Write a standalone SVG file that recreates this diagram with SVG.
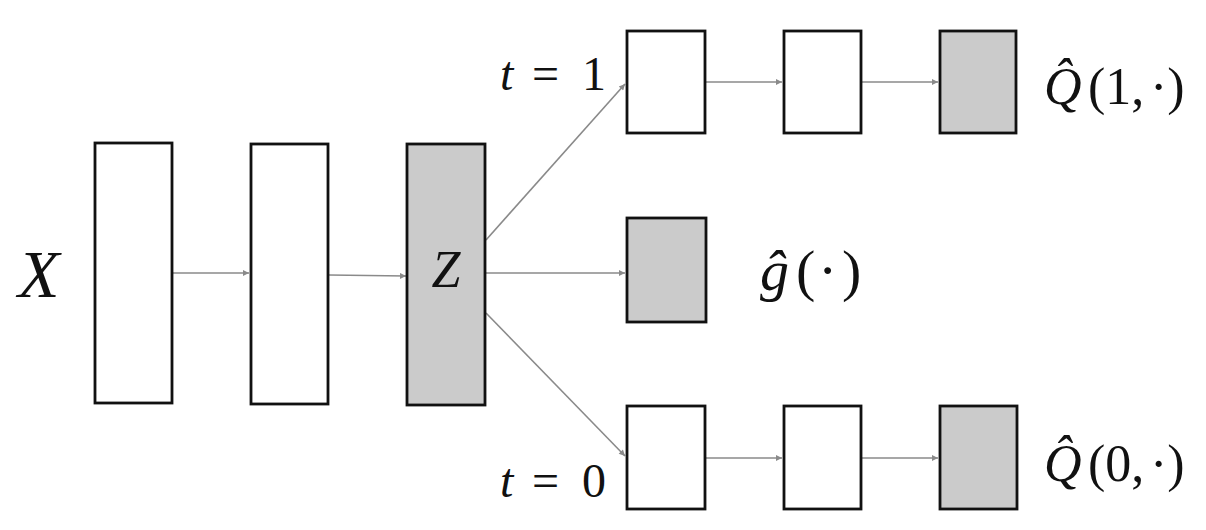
<svg xmlns="http://www.w3.org/2000/svg" width="1206" height="530" viewBox="0 0 1206 530">
<defs>
<marker id="ah" viewBox="0 0 10 10" refX="10" refY="5" markerWidth="8" markerHeight="6" markerUnits="userSpaceOnUse" orient="auto">
<path d="M0,0 L10,5 L0,10 z" fill="#8a8a8a"/>
</marker>
<style>
.b{fill:#fff;stroke:#111;stroke-width:2.8}
.g{fill:#cbcbcb;stroke:#111;stroke-width:2.8}
.c{stroke:#8a8a8a;stroke-width:1.6;fill:none;marker-end:url(#ah)}
.m{font-family:"Liberation Serif","DejaVu Serif",serif;fill:#111}
.i{font-style:italic}
</style>
</defs>
<rect width="1206" height="530" fill="#fff"/>
<g id="connectors">
<line class="c" x1="173" y1="273" x2="249" y2="273"/>
<line class="c" x1="329" y1="275" x2="406" y2="276"/>
<line class="c" x1="486" y1="240" x2="625" y2="84"/>
<line class="c" x1="486" y1="273" x2="625" y2="273"/>
<line class="c" x1="486" y1="313" x2="625" y2="456"/>
<line class="c" x1="706" y1="82" x2="782" y2="82"/>
<line class="c" x1="862" y1="82" x2="938" y2="82"/>
<line class="c" x1="706" y1="458" x2="782" y2="458"/>
<line class="c" x1="862" y1="458" x2="938" y2="458"/>
</g>
<g id="labelX"><text class="m i" x="18" y="297" font-size="68">X</text></g>
<g id="l1"><rect class="b" x="95" y="143" width="77" height="260"/></g>
<g id="l2"><rect class="b" x="251" y="144" width="77" height="260"/></g>
<g id="Z"><rect class="g" x="407" y="144" width="78" height="261"/><text class="m i" x="446" y="287" font-size="52" text-anchor="middle">Z</text></g>
<g id="t1a"><rect class="b" x="627" y="31" width="78" height="102"/></g>
<g id="t1b"><rect class="b" x="784" y="31" width="77" height="102"/></g>
<g id="t1c"><rect class="g" x="940" y="31" width="76" height="102"/></g>
<g id="gbox"><rect class="g" x="627" y="218" width="79" height="104"/></g>
<g id="t0a"><rect class="b" x="627" y="406" width="78" height="103"/></g>
<g id="t0b"><rect class="b" x="784" y="406" width="77" height="103"/></g>
<g id="t0c"><rect class="g" x="940" y="406" width="77" height="103"/></g>
<g id="lab_t1"><text class="m" x="500" y="90" font-size="48"><tspan class="i">t</tspan><tspan x="532">=</tspan><tspan x="582">1</tspan></text></g>
<g id="lab_t0"><text class="m" x="500" y="497" font-size="48"><tspan class="i">t</tspan><tspan x="532">=</tspan><tspan x="582">0</tspan></text></g>
<g id="lab_q1"><text class="m" x="1044" y="104" font-size="52"><tspan class="i">Q̂</tspan><tspan x="1088">(1,</tspan><tspan x="1150">·)</tspan></text></g>
<g id="lab_q0"><text class="m" x="1044" y="481" font-size="52"><tspan class="i">Q̂</tspan><tspan x="1088">(0,</tspan><tspan x="1150">·)</tspan></text></g>
<g id="lab_g"><text class="m" x="760" y="290" font-size="58"><tspan class="i">ĝ</tspan><tspan x="796">(</tspan><tspan x="818">·</tspan><tspan x="842">)</tspan></text></g>
</svg>
